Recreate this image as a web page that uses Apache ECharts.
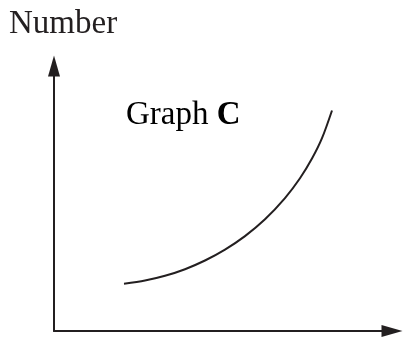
<!DOCTYPE html>
<html>
<head>
<meta charset="utf-8">
<style>
  html, body { margin: 0; padding: 0; background: #fff; }
  #chart { width: 403px; height: 338px; }
</style>
<script src="https://cdn.jsdelivr.net/npm/echarts@6/dist/echarts.min.js"></script>
</head>
<body>
<div id="chart"></div>
<script>
// curve (arbitrary units, 0..100 on both axes)
var curveX = [20.71, 26.92, 32.84, 38.76, 44.67, 50.59, 56.51, 62.43, 68.34, 72.78, 76.33, 79.29, 82.25]
var curveY = [17.85, 19.04, 20.83, 23.32, 26.60, 30.72, 35.81, 42.15, 50.15, 57.62, 65.06, 72.75, 83.21]
var yLabel = 'Number'
var graphName = 'Graph '
var graphLetter = 'C'

var ink = '#231f20'
var serif = '"Liberation Serif", "DejaVu Serif", serif'

var chart = echarts.init(document.getElementById('chart'))

chart.setOption({
  backgroundColor: '#fff',
  animation: false,
  grid: {
    left: 54,
    right: 11,
    top: 66,
    bottom: 7
  },
  xAxis: {
    type: 'value',
    min: 0,
    max: 100,
    axisLine: {
      lineStyle: { color: ink, width: 2 },
      symbol: ['none', 'triangle'],
      symbolSize: [12, 21]
    },
    axisTick: { show: false },
    axisLabel: { show: false },
    splitLine: { show: false }
  },
  yAxis: {
    type: 'value',
    min: 0,
    max: 100,
    axisLine: {
      show: true,
      lineStyle: { color: ink, width: 2 },
      symbol: ['none', 'triangle'],
      symbolSize: [12, 21]
    },
    axisTick: { show: false },
    axisLabel: { show: false },
    splitLine: { show: false }
  },
  graphic: [
    {
      type: 'text',
      left: 9,
      top: 8,
      style: {
        text: yLabel,
        fill: ink,
        font: '33px ' + serif
      }
    },
    {
      type: 'text',
      left: 126,
      top: 99,
      style: {
        text: '{r|' + graphName + '}{b|' + graphLetter + '}',
        rich: {
          r: { fontFamily: serif, fontSize: 33, color: ink },
          b: { fontFamily: serif, fontSize: 33, fontWeight: 'bold', color: ink }
        }
      }
    }
  ],
  series: [{
    type: 'line',
    smooth: 0.3,
    symbol: 'none',
    lineStyle: { color: ink, width: 2 },
    data: curveX.map(function (x, i) { return [x, curveY[i]] })
  }]
})
</script>
</body>
</html>
